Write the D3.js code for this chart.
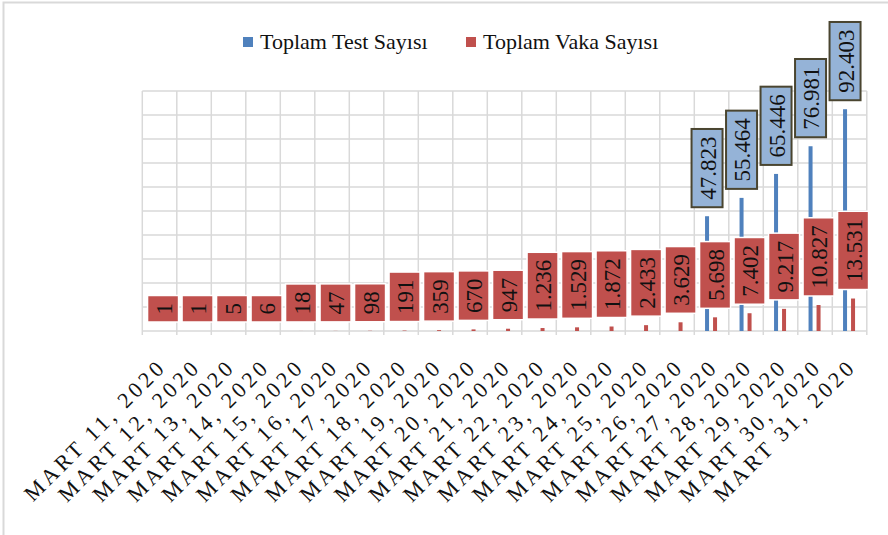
<!DOCTYPE html>
<html>
<head>
  <meta charset="utf-8">
  <script src="https://d3js.org/d3.v7.min.js"></script>
  <style>
    body { margin: 0; background: #fff; }
    .grid line { stroke: #d9d9d9; stroke-width: 1.5px; }
    .lbl text, .legend text, .xlab text {
      font-family: "Liberation Serif", "Times New Roman", serif;
      fill: #111;
    }
  </style>
</head>
<body>
  <svg width="888" height="535"></svg>

  <script>
    const dates = ["MART 11, 2020", "MART 12, 2020", "MART 13, 2020", "MART 14, 2020",
      "MART 15, 2020", "MART 16, 2020", "MART 17, 2020", "MART 18, 2020",
      "MART 19, 2020", "MART 20, 2020", "MART 21, 2020", "MART 22, 2020",
      "MART 23, 2020", "MART 24, 2020", "MART 25, 2020", "MART 26, 2020",
      "MART 27, 2020", "MART 28, 2020", "MART 29, 2020", "MART 30, 2020",
      "MART 31, 2020"];
    const tests = [null, null, null, null, null, null, null, null, null, null,
      null, null, null, null, null, null, 47823, 55464, 65446, 76981, 92403];
    const cases = [1, 1, 5, 6, 18, 47, 98, 191, 359, 670, 947, 1236, 1529,
      1872, 2433, 3629, 5698, 7402, 9217, 10827, 13531];
    const seriesNames = ["Toplam Test Sayısı", "Toplam Vaka Sayısı"];

    const blue = "#4f81bd", red = "#c0504d";
    const fmt = v => d3.format(",")(v).replace(/,/g, ".");

    const svg = d3.select("svg");
    // outer frame (right/bottom edges fall off the picture)
    svg.append("rect")
      .attr("x", 3.5).attr("y", 2.5).attr("width", 900).attr("height", 560)
      .attr("fill", "none").attr("stroke", "#d9d9d9").attr("stroke-width", 2);

    const pLeft = 142.3, pRight = 866.8, pTop = 91, pBottom = 331;
    const x = d3.scaleBand().domain(dates).range([pLeft, pRight]).padding(0);
    const y = d3.scaleLinear().domain([0, 100000]).range([pBottom, pTop]);

    // grid
    const grid = svg.append("g").attr("class", "grid");
    grid.selectAll("line.h")
      .data(y.ticks(10))
      .enter().append("line")
      .attr("x1", pLeft).attr("x2", pRight)
      .attr("y1", d => y(d)).attr("y2", d => y(d));
    grid.selectAll("line.v")
      .data(dates.map(d => x(d)).concat([pRight]))
      .enter().append("line")
      .attr("x1", d => d).attr("x2", d => d)
      .attr("y1", pTop).attr("y2", pBottom + 4);

    const barW = 4;
    const offB = -4.5, offR = 3.5;
    const cx = d => x(d) + x.bandwidth() / 2;

    // bars
    svg.append("g").selectAll("rect")
      .data(dates.filter((d, i) => tests[i] != null))
      .enter().append("rect")
      .attr("x", d => cx(d) + offB - barW / 2)
      .attr("width", barW)
      .attr("y", d => y(tests[dates.indexOf(d)]))
      .attr("height", d => pBottom - y(tests[dates.indexOf(d)]))
      .attr("fill", blue);
    svg.append("g").selectAll("rect")
      .data(dates)
      .enter().append("rect")
      .attr("x", d => cx(d) + offR - barW / 2)
      .attr("width", barW)
      .attr("y", (d, i) => y(cases[i]))
      .attr("height", (d, i) => pBottom - y(cases[i]))
      .attr("fill", red);

    // data labels (boxes above bar ends, rotated text)
    const fs = 22, lfs = 23, pad = 7.5, gap = 9;
    function labels(values, off, w, fill, stroke, sw) {
      const g = svg.append("g").attr("class", "lbl");
      values.forEach((v, i) => {
        if (v == null) return;
        const px = cx(dates[i]) + off;
        const t = g.append("text")
          .attr("font-size", lfs)
          .attr("text-anchor", "middle")
          .attr("dominant-baseline", "central")
          .text(fmt(v));
        const len = t.node().getComputedTextLength();
        const h = len + pad * 2;
        const yb = y(v) - gap;
        g.insert("rect", "text")
          .attr("x", px - w / 2).attr("y", yb - h)
          .attr("width", w).attr("height", h)
          .attr("fill", fill).attr("stroke", stroke).attr("stroke-width", sw);
        t.attr("transform", `translate(${px + 1},${yb - h / 2}) rotate(-90)`);
      });
    }
    labels(cases, offR, 31, red, "#fff", 1.5);
    labels(tests, offB, 31, "#95b3d7", "#4a4530", 2);

    // x labels
    const xl = svg.append("g").attr("class", "xlab");
    xl.selectAll("text")
      .data(dates)
      .enter().append("text")
      .attr("font-size", fs)
      .attr("letter-spacing", "3.6px")
      .attr("text-anchor", "end")
      .attr("transform", d => `translate(${cx(d) + 8},${368}) rotate(-45)`)
      .text(d => d);

    // legend
    const legend = svg.append("g").attr("class", "legend");
    const items = [{ name: seriesNames[0], c: blue, x: 243 }, { name: seriesNames[1], c: red, x: 466 }];
    items.forEach(it => {
      legend.append("rect").attr("x", it.x).attr("y", 37).attr("width", 10).attr("height", 10).attr("fill", it.c);
      legend.append("text").attr("x", it.x + 17).attr("y", 49).attr("font-size", fs).text(it.name);
    });
  </script>
</body>
</html>
